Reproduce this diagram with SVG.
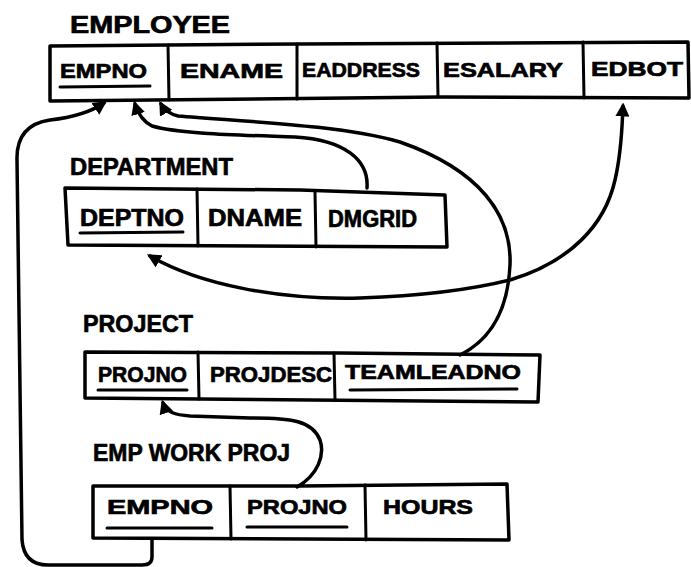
<svg xmlns="http://www.w3.org/2000/svg" width="691" height="567" viewBox="0 0 691 567">
<style>
.bg{fill:#ffffff}
.box{fill:none;stroke:#000;stroke-width:3.5;stroke-linejoin:round;stroke-linecap:round}
.div{fill:none;stroke:#000;stroke-width:3;stroke-linecap:round}
.ul{fill:none;stroke:#000;stroke-width:3;stroke-linecap:round}
.t{font-family:"Liberation Sans","DejaVu Sans",Arial,sans-serif;font-weight:bold;fill:#000;stroke:#000;stroke-width:0.7}
.lbl{font-size:24px}
.cell{font-size:21px}
.conn{fill:none;stroke:#000;stroke-width:3.5;stroke-linecap:round;stroke-linejoin:round}
</style>
<defs>
<marker id="ah" viewBox="0 0 12 12" refX="9" refY="6" markerWidth="14" markerHeight="14" markerUnits="userSpaceOnUse" orient="auto">
<path d="M0,0 L12,6 L0,12 Z" fill="#000"/>
</marker>
<marker id="ahs" viewBox="0 0 12 12" refX="3" refY="6" markerWidth="14" markerHeight="14" markerUnits="userSpaceOnUse" orient="auto">
<path d="M12,0 L0,6 L12,12 Z" fill="#000"/>
</marker>
</defs>
<rect class="bg" x="0" y="0" width="691" height="567"/>

<g id="employee">
<text class="t lbl" x="70" y="33" textLength="160" lengthAdjust="spacingAndGlyphs">EMPLOYEE</text>
<path class="box" d="M50,46 L300,44 L688,42 L689,98 L440,97 L50,101 Z"/>
<path class="div" d="M168,45 L169,100 M297,44 L297,99 M437,43 L438,97 M583,42 L584,98"/>
<text class="t cell" x="60" y="78" textLength="87" lengthAdjust="spacingAndGlyphs">EMPNO</text>
<path class="ul" d="M60,87 L150,86"/>
<text class="t cell" x="180" y="78" textLength="103" lengthAdjust="spacingAndGlyphs">ENAME</text>
<text class="t cell" x="302" y="77" textLength="118" lengthAdjust="spacingAndGlyphs">EADDRESS</text>
<text class="t cell" x="443" y="77" textLength="120" lengthAdjust="spacingAndGlyphs">ESALARY</text>
<text class="t cell" x="591" y="76" textLength="92" lengthAdjust="spacingAndGlyphs">EDBOT</text>
</g>

<g id="department">
<text class="t lbl" x="70" y="175" textLength="163" lengthAdjust="spacingAndGlyphs">DEPARTMENT</text>
<path class="box" d="M65,188 L300,190 L445,195 L447,247 L68,245 Z"/>
<path class="div" d="M197,189 L198,246 M315,192 L316,247"/>
<text class="t cell" x="80" y="226" textLength="104" lengthAdjust="spacingAndGlyphs" style="font-size:23px">DEPTNO</text>
<path class="ul" d="M80,233 L183,232"/>
<text class="t cell" x="208" y="226" textLength="94" lengthAdjust="spacingAndGlyphs" style="font-size:23px">DNAME</text>
<text class="t cell" x="328" y="227" textLength="89" lengthAdjust="spacingAndGlyphs" style="font-size:23px">DMGRID</text>
</g>

<g id="project">
<text class="t lbl" x="83" y="332" textLength="110" lengthAdjust="spacingAndGlyphs">PROJECT</text>
<path class="box" d="M85,352 L340,353 L540,355 L538,402 L85,398 Z"/>
<path class="div" d="M198,352 L199,399 M334,353 L335,400"/>
<text class="t cell" x="98" y="382" textLength="89" lengthAdjust="spacingAndGlyphs" style="font-size:22px">PROJNO</text>
<path class="ul" d="M98,390 L187,390"/>
<text class="t cell" x="210" y="382" textLength="122" lengthAdjust="spacingAndGlyphs" style="font-size:22px">PROJDESC</text>
<text class="t cell" x="345" y="379" textLength="176" lengthAdjust="spacingAndGlyphs">TEAMLEADNO</text>
<path class="ul" d="M350,390 L517,389"/>
</g>

<g id="empworkproj">
<text class="t lbl" x="93" y="461" textLength="197" lengthAdjust="spacingAndGlyphs">EMP WORK PROJ</text>
<path class="box" d="M93,486 L300,486 L507,484 L509,540 L93,538 Z"/>
<path class="div" d="M230,486 L231,539 M365,485 L366,540"/>
<text class="t cell" x="107" y="514" textLength="106" lengthAdjust="spacingAndGlyphs">EMPNO</text>
<path class="ul" d="M107,528 L212,528"/>
<text class="t cell" x="247" y="514" textLength="100" lengthAdjust="spacingAndGlyphs">PROJNO</text>
<path class="ul" d="M247,527 L347,527"/>
<text class="t cell" x="383" y="514" textLength="90" lengthAdjust="spacingAndGlyphs">HOURS</text>
</g>

<g id="connectors">
<path class="conn" marker-end="url(#ah)" d="M152,540 L152,557 Q152,565 142,565 L48,565 Q24,565 22,540 L17,160 Q16,125 50,120 Q85,116 104,103"/>
<path class="conn" marker-end="url(#ah)" d="M367,188 C369,160 345,140 295,137 C240,135 180,134 152,126 Q140,120 135,104"/>
<path class="conn" marker-end="url(#ah)" d="M460,355 C490,340 508,310 510,265 C512,215 480,170 400,142 C340,125 250,122 178,116 Q166,113 161,104"/>
<path class="conn" marker-start="url(#ahs)" marker-end="url(#ah)" d="M150,256 C200,285 280,300 360,298 C420,296 470,290 510,280 C570,262 605,225 615,180 C622,150 622,125 623,106"/>
<path class="conn" marker-end="url(#ah)" d="M297,487 C318,475 325,455 320,440 C312,420 290,418 250,418 L190,416 C175,415 166,412 163,403"/>
</g>
</svg>
